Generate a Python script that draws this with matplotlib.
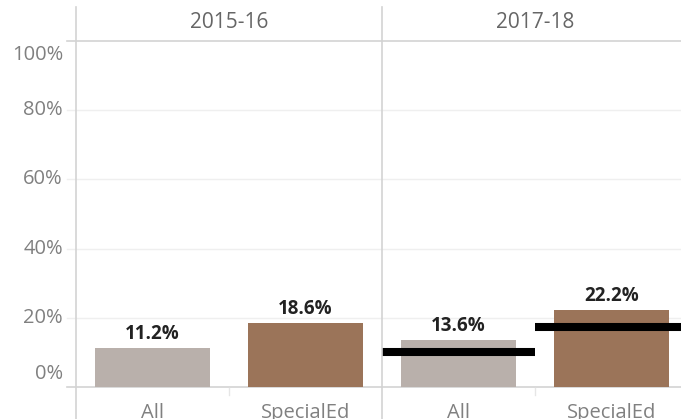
import numpy as np
import matplotlib
matplotlib.use("Agg")
import matplotlib.pyplot as plt
from matplotlib.lines import Line2D
from matplotlib.transforms import ScaledTranslation

plt.rcParams['font.family'] = ['Open Sans', 'DejaVu Sans']

# -------------------------
# Data
# -------------------------
years = ['2015-16', '2017-18']
groups = ['All', 'SpecialEd']
rates = {
    '2015-16': [11.2, 18.6],
    '2017-18': [13.6, 22.2],
}
targets = {
    '2015-16': None,
    '2017-18': [10.1, 17.4],
}
y_ticks = [0, 20, 40, 60, 80, 100]

bar_colors = ['#b9b0ab', '#9b7459']
grid_col = '#efefef'
line_col = '#d3d3d3'
tick_col = '#808080'

W, H = 681, 419
fig = plt.figure(figsize=(W / 100, H / 100), dpi=100)

# panel geometry in pixels
left0, pw = 76, 306
bottom, ph = 387, 346

axes = []
for i, yr in enumerate(years):
    ax = fig.add_axes([(left0 + i * pw) / W, (H - bottom) / H, pw / W, ph / H])
    ax.set_xlim(-0.5, 1.5)
    ax.set_ylim(0, 100)
    ax.axis('off')
    axes.append(ax)

    # gridlines
    for t in y_ticks[1:-1]:
        ax.axhline(t, xmin=-0.03 if i == 0 else 0, xmax=1, color=grid_col,
                   lw=1, zorder=0, clip_on=False)
    # header line (100%) and baseline (0%)
    for t in (0, 100):
        ax.axhline(t, xmin=-0.03 if i == 0 else 0, xmax=1, color=line_col,
                   lw=1.2, zorder=1, clip_on=False)

    x = np.arange(len(groups))
    vals = rates[yr]
    ax.bar(x, vals, width=0.75, color=bar_colors, zorder=2)

    # value labels
    for xi, v in zip(x, vals):
        ax.annotate(f'{v:.1f}%', (xi, v), xytext=(0, 6.5),
                    textcoords='offset points', ha='center', va='baseline',
                    fontsize=13.5, fontweight='bold', color='#222222', zorder=4)

    # target lines
    if targets[yr] is not None:
        ax.hlines(targets[yr], x - 0.5, x + 0.5, color='black', lw=5.8,
                  zorder=3, clip_on=False)

    # category labels
    tr = ax.get_xaxis_transform()
    for xi, g in zip(x, groups):
        ax.text(xi, 0, g, transform=tr + ScaledTranslation(0, -31 / 100, fig.dpi_scale_trans),
                ha='center', va='baseline', fontsize=14.5, color=tick_col)
    # small separator tick between categories
    ax.plot([0.5, 0.5], [-0.3, -2.3], color='#e6e6e6', lw=1, clip_on=False)

    # header
    ax.text(0.5, 1 + 18 / ph, yr, transform=ax.transAxes, ha='center',
            va='center', fontsize=15, color='#666666')

# y tick labels
ax = axes[0]
ytr = ax.get_yaxis_transform()
for t in y_ticks:
    dy = 0
    if t == 0:
        dy = 13.5
    elif t == 100:
        dy = -14
    off = ScaledTranslation(-13 / 100, dy / 100, fig.dpi_scale_trans)
    ax.text(0, t, f'{t}%', transform=ytr + off, ha='right', va='center',
            fontsize=14.5, color=tick_col)

# frame lines: left axis and panel divider
for xp in (left0, left0 + pw):
    fig.add_artist(Line2D([xp / W, xp / W], [0, (H - 7) / H],
                          transform=fig.transFigure, color=line_col, lw=1.2))

fig.savefig('out.png', dpi=100)
